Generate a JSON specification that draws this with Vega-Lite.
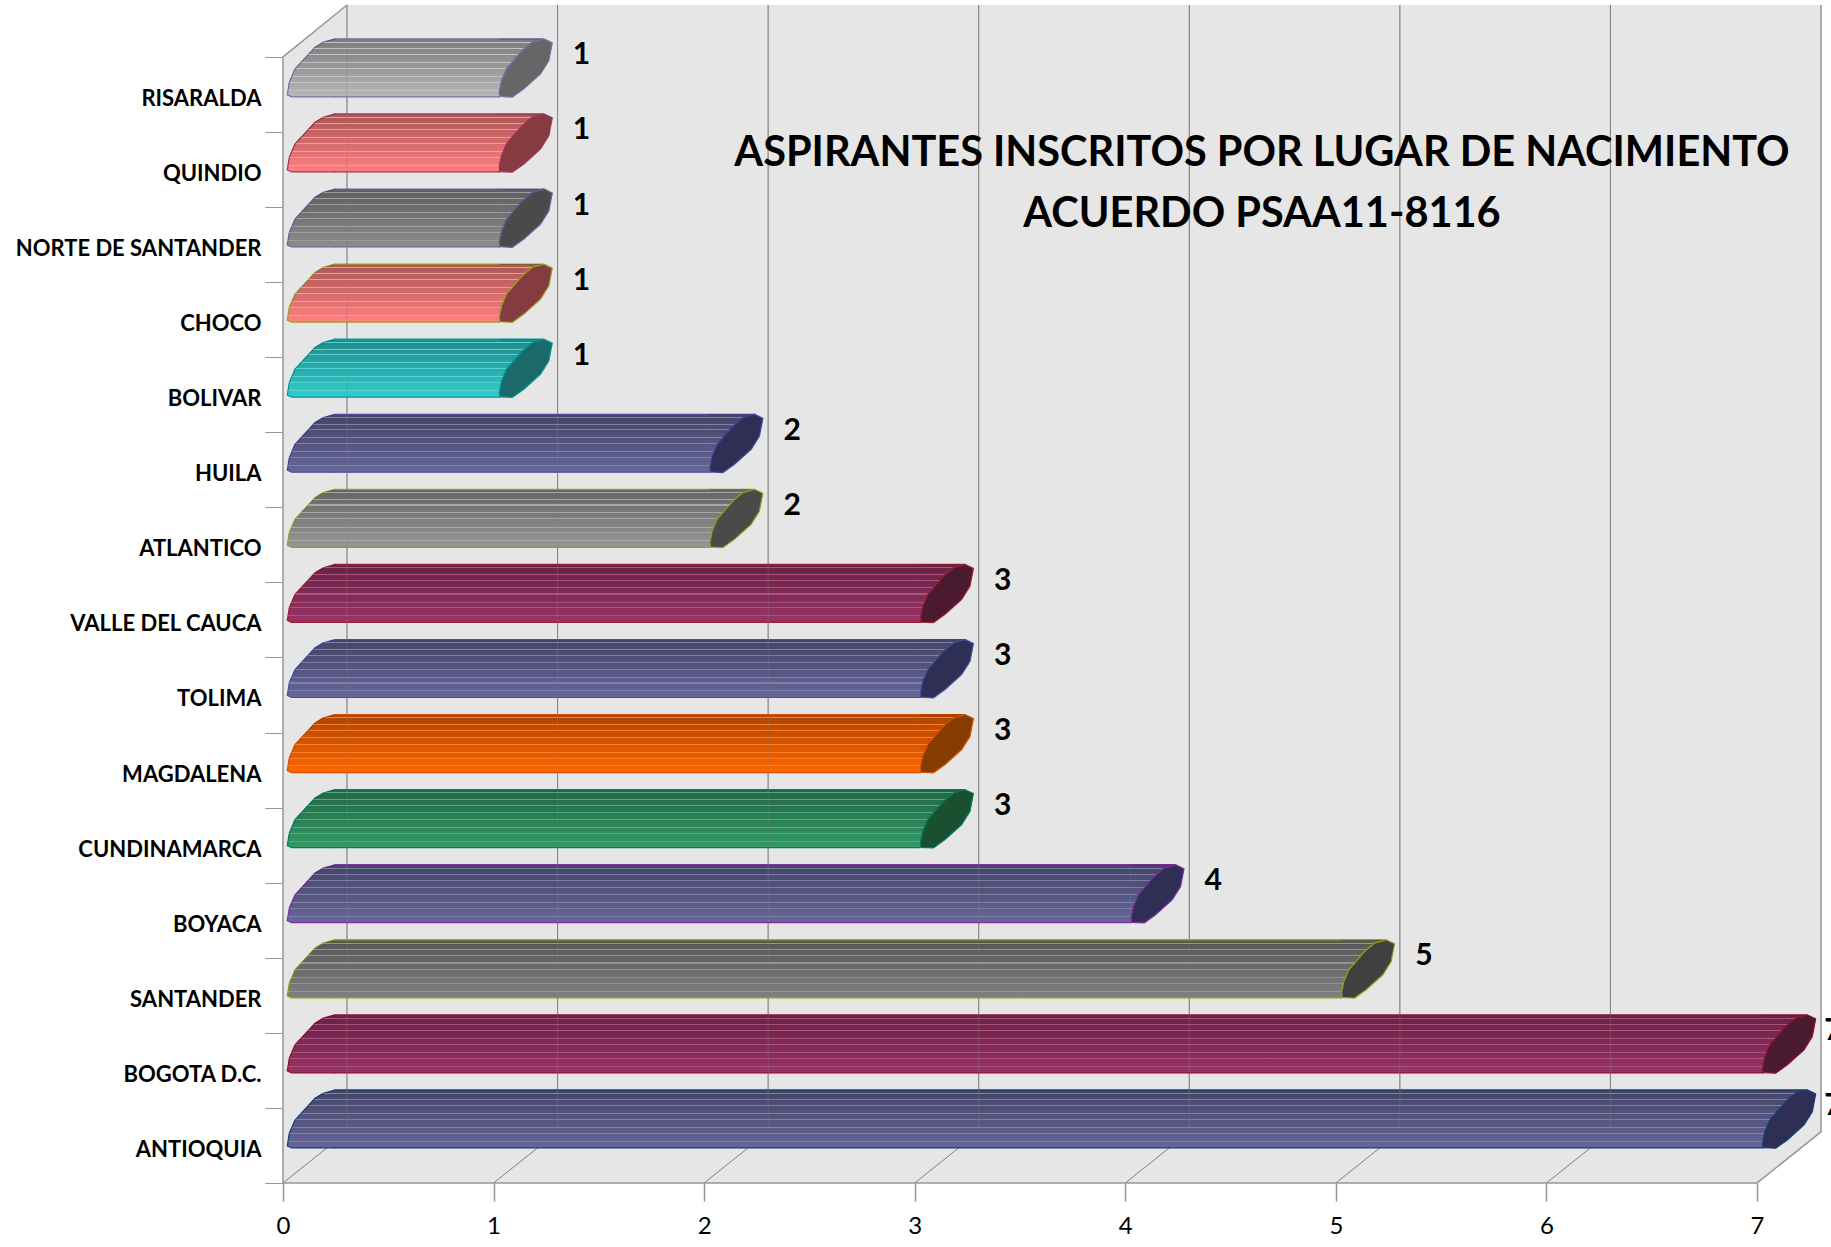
{
"$schema":"https://vega.github.io/schema/vega-lite/v6.json",
"autosize":{"type":"none"},
"padding":{"left":283,"top":5,"right":10,"bottom":64},
"width":1538,"height":1178,
"background":"white",
"view":{"stroke":null},
"title":{"text":["ASPIRANTES INSCRITOS POR LUGAR DE NACIMIENTO","ACUERDO PSAA11-8116"],"frame":"group","anchor":"middle","orient":"top","dx":210,"dy":245,"fontSize":41.5,"font":"Lato","fontWeight":"bold","lineHeight":61,"color":"#000000"},
"data":{"values":[
{"departamento":"RISARALDA","aspirantes":1},
{"departamento":"QUINDIO","aspirantes":1},
{"departamento":"NORTE DE SANTANDER","aspirantes":1},
{"departamento":"CHOCO","aspirantes":1},
{"departamento":"BOLIVAR","aspirantes":1},
{"departamento":"HUILA","aspirantes":2},
{"departamento":"ATLANTICO","aspirantes":2},
{"departamento":"VALLE DEL CAUCA","aspirantes":3},
{"departamento":"TOLIMA","aspirantes":3},
{"departamento":"MAGDALENA","aspirantes":3},
{"departamento":"CUNDINAMARCA","aspirantes":3},
{"departamento":"BOYACA","aspirantes":4},
{"departamento":"SANTANDER","aspirantes":5},
{"departamento":"BOGOTA D.C.","aspirantes":7},
{"departamento":"ANTIOQUIA","aspirantes":7}
]},
"encoding":{
"x":{"field":"aspirantes","type":"quantitative","title":null,
"scale":{"domain":[0,7.304],"nice":false,"zero":false},
"axis":{"values":[0,1,2,3,4,5,6,7],"domain":false,"grid":false,"tickColor":"#969696","tickSize":18,"tickWidth":1.5,"labelFont":"Lato","labelFontSize":24,"labelColor":"#000000","labelPadding":13,"labelFlush":false,"format":"d"}},
"y":{"field":"departamento","type":"nominal","title":null,
"scale":{"domain":["RISARALDA","QUINDIO","NORTE DE SANTANDER","CHOCO","BOLIVAR","HUILA","ATLANTICO","VALLE DEL CAUCA","TOLIMA","MAGDALENA","CUNDINAMARCA","BOYACA","SANTANDER","BOGOTA D.C.","ANTIOQUIA"],"paddingInner":0,"paddingOuter":0.345,"align":1},
"axis":{"domain":false,"grid":false,"tickBand":"extent","tickColor":"#969696","tickSize":18,"tickWidth":1,"labelFont":"Lato","labelFontWeight":"bold","labelFontSize":22,"labelColor":"#000000","labelPadding":4,"labelOffset":4,"labelLimit":280}}
},
"layer":[
{"data":{"values":[{"linea":0}]},
"mark":{"type":"point","filled":true,"opacity":1,"size":4,"fill":"#E6E6E6","strokeWidth":0,"shape":"M0,37.5 L1474,37.5 L1538,-13.5 L1538,-1140.5 L64,-1140.5 L0,-1088.5 Z"},
"encoding":{"x":{"field":"linea","type":"quantitative"},"y":{"datum":"ANTIOQUIA","type":"nominal"}}},
{"data":{"values":[{"linea":0},{"linea":1},{"linea":2},{"linea":3},{"linea":4},{"linea":5},{"linea":6}]},
"mark":{"type":"point","filled":false,"opacity":1,"size":4,"stroke":"#808080","strokeWidth":1,"fill":null,"shape":"M64,-1140.5 L64,-13.5 M0,37.5 L64,-13.5"},
"encoding":{"x":{"field":"linea","type":"quantitative"},"y":{"datum":"ANTIOQUIA","type":"nominal"}}},
{"data":{"values":[{"linea":0}]},
"mark":{"type":"point","filled":false,"opacity":1,"size":4,"stroke":"#969696","strokeWidth":1.5,"fill":null,"shape":"M64,-1140.5 L0,-1088.5 L0,37.5 L1474,37.5 L1538,-13.5 L1538,-1140.5"},
"encoding":{"x":{"field":"linea","type":"quantitative"},"y":{"datum":"ANTIOQUIA","type":"nominal"}}},
{"encoding":{"stroke":{"field":"departamento","type":"nominal","legend":null,"scale":{"domain":["RISARALDA","QUINDIO","NORTE DE SANTANDER","CHOCO","BOLIVAR","HUILA","ATLANTICO","VALLE DEL CAUCA","TOLIMA","MAGDALENA","CUNDINAMARCA","BOYACA","SANTANDER","BOGOTA D.C.","ANTIOQUIA"],"range":["#7272a8","#a83060","#6262a0","#a09a20","#009a9a","#4545a0","#90a020","#a01f35","#3f50a5","#d85000","#008060","#8030a0","#9a9a15","#901030","#104080"]}}},
"resolve":{"scale":{"fill":"independent"}},
"layer":[
{"encoding":{"fill":{"field":"departamento","type":"nominal","legend":null,"scale":{"domain":["RISARALDA","QUINDIO","NORTE DE SANTANDER","CHOCO","BOLIVAR","HUILA","ATLANTICO","VALLE DEL CAUCA","TOLIMA","MAGDALENA","CUNDINAMARCA","BOYACA","SANTANDER","BOGOTA D.C.","ANTIOQUIA"],"range":["#b8b8b8","#ff8080","#8c8c8c","#ff8080","#33cccc","#666699","#969696","#993366","#666699","#ff6600","#339966","#666699","#808080","#993366","#666699"]}}},
"layer":[
{"mark":{"type":"bar","orient":"horizontal","height":58,"yOffset":-26.5,"xOffset":51.5,"x2Offset":5.5},"encoding":{"x":{"datum":0,"type":"quantitative"},"x2":{"field":"aspirantes"},"stroke":{"value":null}}},
{"mark":{"type":"point","filled":true,"opacity":1,"size":4,"strokeWidth":1.2,"shape":"M52,2.5 L8.7,2.5 L4.3,0.5 L6.3,-12.2 L12,-25.5 L32,-47.2 L40.3,-52.2 L52,-55.5"},"encoding":{"x":{"datum":0,"type":"quantitative"}}},
{"mark":{"type":"point","filled":true,"opacity":1,"size":4,"strokeWidth":1.2,"shape":"M5,-55.5 L50.3,-55.5 L38.7,-52.2 L28.7,-43.8 L13,-25.5 L8,-13.8 L5.7,-2.2 L6.3,2.2 L5,2.5"}}
]},
{"encoding":{"fill":{"value":{"gradient":"linear","x1":0,"y1":0,"x2":0,"y2":1,"stops":[
{"offset":0,"color":"rgba(0,0,0,0.33)"},
{"offset":0.048,"color":"rgba(0,0,0,0.314)"},{"offset":0.048,"color":"rgba(255,255,255,0.16)"},{"offset":0.066,"color":"rgba(255,255,255,0.16)"},{"offset":0.066,"color":"rgba(0,0,0,0.308)"},
{"offset":0.161,"color":"rgba(0,0,0,0.277)"},{"offset":0.161,"color":"rgba(255,255,255,0.16)"},{"offset":0.179,"color":"rgba(255,255,255,0.16)"},{"offset":0.179,"color":"rgba(0,0,0,0.271)"},
{"offset":0.261,"color":"rgba(0,0,0,0.244)"},{"offset":0.261,"color":"rgba(255,255,255,0.16)"},{"offset":0.279,"color":"rgba(255,255,255,0.16)"},{"offset":0.279,"color":"rgba(0,0,0,0.238)"},
{"offset":0.391,"color":"rgba(0,0,0,0.201)"},{"offset":0.391,"color":"rgba(255,255,255,0.16)"},{"offset":0.409,"color":"rgba(255,255,255,0.16)"},{"offset":0.409,"color":"rgba(0,0,0,0.195)"},
{"offset":0.501,"color":"rgba(0,0,0,0.165)"},{"offset":0.501,"color":"rgba(255,255,255,0.16)"},{"offset":0.519,"color":"rgba(255,255,255,0.16)"},{"offset":0.519,"color":"rgba(0,0,0,0.159)"},
{"offset":0.641,"color":"rgba(0,0,0,0.118)"},{"offset":0.641,"color":"rgba(255,255,255,0.16)"},{"offset":0.659,"color":"rgba(255,255,255,0.16)"},{"offset":0.659,"color":"rgba(0,0,0,0.113)"},
{"offset":0.741,"color":"rgba(0,0,0,0.085)"},{"offset":0.741,"color":"rgba(255,255,255,0.16)"},{"offset":0.759,"color":"rgba(255,255,255,0.16)"},{"offset":0.759,"color":"rgba(0,0,0,0.08)"},
{"offset":0.877,"color":"rgba(0,0,0,0.041)"},{"offset":0.877,"color":"rgba(255,255,255,0.16)"},{"offset":0.895,"color":"rgba(255,255,255,0.16)"},{"offset":0.895,"color":"rgba(0,0,0,0.035)"},
{"offset":1,"color":"rgba(0,0,0,0)"}
]}},"stroke":{"value":null}},
"layer":[
{"mark":{"type":"bar","orient":"horizontal","height":58,"yOffset":-26.5,"xOffset":52,"x2Offset":5},"encoding":{"x":{"datum":0,"type":"quantitative"},"x2":{"field":"aspirantes"}}},
{"mark":{"type":"point","filled":true,"opacity":1,"size":4,"strokeWidth":0,"shape":"M52,2.5 L8.7,2.5 L4.3,0.5 L6.3,-12.2 L12,-25.5 L32,-47.2 L40.3,-52.2 L52,-55.5 Z"},"encoding":{"x":{"datum":0,"type":"quantitative"}}},
{"mark":{"type":"point","filled":true,"opacity":1,"size":4,"strokeWidth":0,"shape":"M5,-55.5 L50.3,-55.5 L38.7,-52.2 L28.7,-43.8 L13,-25.5 L8,-13.8 L5.7,-2.2 L6.3,2.2 L5,2.5 Z"}}
]},
{"mark":{"type":"rule","strokeWidth":1.2,"yOffset":-55.5,"xOffset":51,"x2Offset":6},"encoding":{"x":{"datum":0,"type":"quantitative"},"x2":{"field":"aspirantes"}}},
{"mark":{"type":"rule","strokeWidth":1.2,"yOffset":2.5,"xOffset":51,"x2Offset":6},"encoding":{"x":{"datum":0,"type":"quantitative"},"x2":{"field":"aspirantes"}}},
{"mark":{"type":"point","filled":true,"opacity":1,"size":4,"strokeWidth":1.2,"shape":"M18.7,2.8 L6.3,2.2 L5.7,-2.2 L8,-13.8 L13,-25.5 L28.7,-43.8 L38.7,-52.2 L50.3,-55.5 L58.7,-51.5 L55.3,-33.8 L47,-20.5 L30.3,-5.5 Z"},
"encoding":{"fill":{"field":"departamento","type":"nominal","legend":null,"scale":{"domain":["RISARALDA","QUINDIO","NORTE DE SANTANDER","CHOCO","BOLIVAR","HUILA","ATLANTICO","VALLE DEL CAUCA","TOLIMA","MAGDALENA","CUNDINAMARCA","BOYACA","SANTANDER","BOGOTA D.C.","ANTIOQUIA"],"range":["#666666","#843c40","#4a4a4a","#843c40","#1a6a6a","#2f2f55","#4a4a4a","#4a1a30","#2f2f55","#843c00","#1a5030","#2f2f55","#404040","#4a1a30","#2f2f55"]}}}}
]},
{"data":{"values":[{"linea":0},{"linea":1},{"linea":2},{"linea":3},{"linea":4},{"linea":5},{"linea":6}]},
"mark":{"type":"point","filled":false,"opacity":0.35,"size":4,"stroke":"#808080","strokeWidth":1,"fill":null,"shape":"M64,-1140.5 L64,-13.5"},
"encoding":{"x":{"field":"linea","type":"quantitative"},"y":{"datum":"ANTIOQUIA","type":"nominal"}}},
{"transform":[{"filter":"datum.aspirantes < 7"}],
"mark":{"type":"text","font":"Lato","fontWeight":"bold","fontSize":30,"color":"#000000","dx":88,"yOffset":-39,"align":"center","baseline":"middle"},
"encoding":{"text":{"field":"aspirantes","type":"quantitative"}}},
{"transform":[{"filter":"datum.aspirantes == 7"}],
"mark":{"type":"text","font":"Lato","fontWeight":"bold","fontSize":30,"color":"#000000","dx":76,"yOffset":-39,"align":"center","baseline":"middle"},
"encoding":{"text":{"field":"aspirantes","type":"quantitative"}}}
]
}
